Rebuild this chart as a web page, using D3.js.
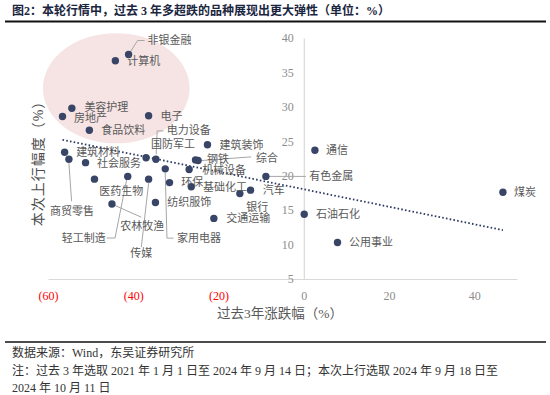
<!DOCTYPE html>
<html>
<head>
<meta charset="utf-8">
<script src="https://cdn.jsdelivr.net/npm/d3@7"></script>
<style>
  body { margin: 0; background: #fff; }
  svg text { font-family: "Liberation Serif", "Noto Sans CJK SC", serif; }
</style>
</head>
<body>
<div id="chart"></div>
<script>
// 申万一级行业: 过去3年涨跌幅 vs 本次上行幅度 (%)
const industries = ["非银金融","计算机","美容护理","房地产","电子","食品饮料","建筑材料","商贸零售",
  "社会服务","国防军工","电力设备","建筑装饰","钢铁","综合","医药生物","轻工制造","传媒","农林牧渔",
  "家用电器","环保","基础化工","机械设备","纺织服饰","银行","汽车","交通运输","有色金属","通信",
  "煤炭","石油石化","公用事业"]
const pastChange = [-41.1,-44.2,-54.4,-56.6,-36.4,-50.3,-56.1,-55.1,-51.2,-37.0,-34.7,-22.6,-25.4,-24.8,
  -49.1,-41.3,-36.4,-45.0,-32.5,-31.5,-26.4,-26.9,-34.8,-15.0,-12.5,-21.1,-8.9,2.6,46.7,0.1,7.9]
const upMove = [37.6,36.7,29.8,28.6,28.7,26.6,23.4,22.4,21.9,22.6,22.4,24.5,22.3,22.2,19.5,19.9,19.5,15.9,
  21.0,19.0,18.4,20.9,16.1,17.4,17.9,13.8,19.9,23.7,17.6,14.4,10.3]
const xTicks = [-60,-40,-20,0,20,40]
const yTicks = [5,10,15,20,25,30,35,40]

// label placement: text offset from the point, optional leader line (px offsets)
const labelPos = {
  "非银金融": {dx:19, dy:-14, lead:[[2,-3],[9,-14],[16,-14]]},
  "计算机": {dx:12, dy:0},
  "美容护理": {dx:12.5, dy:-1.5},
  "房地产": {dx:11.5, dy:1.5},
  "电子": {dx:12, dy:0},
  "食品饮料": {dx:12, dy:0},
  "建筑材料": {dx:11.5, dy:-0.5},
  "商贸零售": {dx:-19, dy:52, lead:[[0,4],[2.7,42]]},
  "社会服务": {dx:11.5, dy:0.5},
  "国防军工": {dx:5, dy:-13.5},
  "电力设备": {dx:11, dy:-29, lead:[[0.3,-5],[1.3,-28.3],[7.5,-28.3]]},
  "建筑装饰": {dx:12, dy:0.5},
  "钢铁": {dx:11.5, dy:-0.5},
  "综合": {dx:58, dy:-2.7, lead:[[3,0],[53,-3.7]]},
  "医药生物": {dx:4.7, dy:12.4},
  "轻工制造": {dx:-66, dy:61.6, lead:[[-1,3],[-12.7,61.6],[-21,61.6]]},
  "传媒": {dx:-18.3, dy:74, lead:[[0,4],[-7.3,68]]},
  "农林牧渔": {dx:8.4, dy:22.7, lead:[[3,1.5],[29.4,13.3]]},
  "家用电器": {dx:11.7, dy:69.3, lead:[[0,4],[1.7,69.3],[8.3,69.3]]},
  "环保": {dx:11.7, dy:-0.4},
  "基础化工": {dx:11.7, dy:0.6},
  "机械设备": {dx:13, dy:1},
  "纺织服饰": {dx:11.7, dy:-0.6},
  "银行": {dx:6.4, dy:13.4},
  "汽车": {dx:12.3, dy:0},
  "交通运输": {dx:12.4, dy:0},
  "有色金属": {dx:43.3, dy:0, lead:[[3,0],[40,0]]},
  "通信": {dx:11, dy:0},
  "煤炭": {dx:11, dy:0},
  "石油石化": {dx:11.7, dy:0},
  "公用事业": {dx:11.6, dy:0}
}
// pink highlight ellipse, in data units
const highlight = {cx:-44, cy:32.7, rx:17.2, ry:8}

const width = 550, height = 395
const svg = d3.select("#chart").append("svg")
  .attr("width", width).attr("height", height)

const x = d3.scaleLinear().domain([-60, 50]).range([48, 517])
const y = d3.scaleLinear().domain([5, 40]).range([279, 38])

// title
svg.append("text").attr("x", 12).attr("y", 11).attr("dy", "0.35em")
  .attr("font-size", 12).attr("font-weight", "bold").attr("fill", "#1a2540")
  .text("图2：本轮行情中，过去 3 年多超跌的品种展现出更大弹性（单位：%）")
svg.append("line").attr("x1", 5).attr("x2", 546).attr("y1", 21.5).attr("y2", 21.5)
  .attr("stroke", "#111").attr("stroke-width", 2)

// highlight ellipse
svg.append("ellipse")
  .attr("cx", x(highlight.cx)).attr("cy", y(highlight.cy))
  .attr("rx", x(highlight.cx + highlight.rx) - x(highlight.cx))
  .attr("ry", y(highlight.cy - highlight.ry) - y(highlight.cy))
  .attr("fill", "#f6e4e4")

// axes
const xAxis = svg.append("g").attr("transform", `translate(0,${y(5)})`)
  .call(d3.axisBottom(x).tickValues(xTicks).tickSize(0).tickPadding(12)
    .tickFormat(d => d < 0 ? `(${-d})` : d))
xAxis.select(".domain").attr("stroke", "#d9d9d9").attr("stroke-width", 1.2)
xAxis.selectAll("text").attr("font-size", 12).attr("font-family", "Liberation Serif")
  .attr("fill", d => d < 0 ? "#ff0000" : "#8c8c8c")

const yAxis = svg.append("g").attr("transform", `translate(${x(0)},0)`)
  .call(d3.axisLeft(y).tickValues(yTicks).tickSize(0).tickPadding(10))
yAxis.select(".domain").attr("stroke", "#d9d9d9").attr("stroke-width", 1.2)
yAxis.selectAll("text").attr("font-size", 12).attr("font-family", "Liberation Serif")
  .attr("fill", "#8c8c8c")

// axis titles
svg.append("text").attr("x", 280).attr("y", 313).attr("dy", "0.35em")
  .attr("text-anchor", "middle").attr("font-size", 13.5).attr("fill", "#595959")
  .text("过去3年涨跌幅（%）")
svg.append("text").attr("transform", "translate(38,160) rotate(-90)").attr("dy", "0.35em")
  .attr("text-anchor", "middle").attr("font-size", 14).attr("fill", "#4d4d4d")
  .attr("letter-spacing", 1)
  .text("本次上行幅度（%）")

// linear trend line (least squares)
const mx = d3.mean(pastChange), my = d3.mean(upMove)
const slope = d3.sum(pastChange, (v, i) => (v - mx) * (upMove[i] - my)) /
  d3.sum(pastChange, v => (v - mx) * (v - mx))
const icpt = my - slope * mx
const [x0, x1] = d3.extent(pastChange)
svg.append("line")
  .attr("x1", x(x0)).attr("y1", y(icpt + slope * x0))
  .attr("x2", x(x1)).attr("y2", y(icpt + slope * x1))
  .attr("stroke", "#2f3d63").attr("stroke-width", 1.8).attr("stroke-dasharray", "1.6,2.2")

const data = industries.map((name, i) => ({name, px: pastChange[i], up: upMove[i]}))

// leader lines
const line = d3.line()
svg.append("g").selectAll("path")
  .data(data.filter(d => labelPos[d.name].lead))
  .join("path")
  .attr("d", d => line(labelPos[d.name].lead.map(p => [x(d.px) + p[0], y(d.up) + p[1]])))
  .attr("fill", "none").attr("stroke", "#a6a6a6").attr("stroke-width", 1)

// points
svg.append("g").selectAll("circle").data(data).join("circle")
  .attr("cx", d => x(d.px)).attr("cy", d => y(d.up)).attr("r", 3.7)
  .attr("fill", "#384566")

// labels
svg.append("g").selectAll("text").data(data).join("text")
  .attr("x", d => x(d.px) + labelPos[d.name].dx)
  .attr("y", d => y(d.up) + labelPos[d.name].dy)
  .attr("dy", "0.35em").attr("font-size", 11).attr("fill", "#595959")
  .attr("font-family", "Noto Sans CJK SC")
  .text(d => d.name)

// footer
svg.append("line").attr("x1", 5).attr("x2", 546).attr("y1", 342).attr("y2", 342)
  .attr("stroke", "#111").attr("stroke-width", 1.5)
const notes = ["数据来源：Wind，东吴证券研究所",
  "注：过去 3 年选取 2021 年 1 月 1 日至 2024 年 9 月 14 日；本次上行选取 2024 年 9 月 18 日至",
  "2024 年 10 月 11 日"]
svg.append("g").selectAll("text").data(notes).join("text")
  .attr("x", 12).attr("y", (d, i) => 353 + i * 17.5).attr("dy", "0.35em")
  .attr("font-size", 12).attr("fill", "#333")
  .text(d => d)
</script>
</body>
</html>
